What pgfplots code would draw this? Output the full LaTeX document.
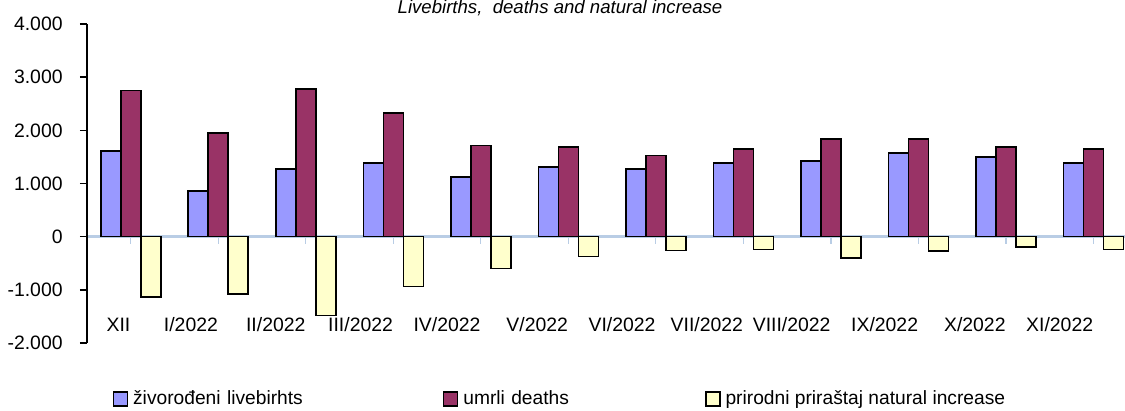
\documentclass[border=0pt]{standalone}
\usepackage{fontspec}
\setmainfont{Liberation Sans}
\usepackage{pgfplots}
\usepackage{pgfplotstable}
\pgfplotsset{compat=1.18}

\definecolor{birthblue}{RGB}{153,153,255}
\definecolor{deathred}{RGB}{153,51,102}
\definecolor{natyellow}{RGB}{255,255,204}
\definecolor{zeroblue}{RGB}{185,205,229}

% mjesec, zivorodeni, umrli, prirodni prirastaj
\pgfplotstableread{
x  births deaths nat
0  1615   2747   -1132
1  864    1947   -1083
2  1277   2773   -1480
3  1384   2322   -938
4  1120   1715   -600
5  1308   1684   -370
6  1277   1527   -260
7  1383   1646   -245
8  1427   1834   -400
9  1571   1834   -270
10 1496   1684   -195
11 1383   1646   -245
}\data

\begin{document}
\begin{tikzpicture}
\begin{axis}[
  scale only axis, width=519pt, height=159.5pt,
  xmin=-0.5, xmax=11.36, ymin=-2000, ymax=4000,
  axis y line*=left, axis x line*=middle,
  ybar=0pt, bar width=10pt,
  tick align=outside, major tick length=3.5pt,
  y axis line style={black, line width=0.8pt},
  x axis line style={zeroblue, line width=1.2pt},
  ytick style={black, line width=0.8pt},
  xtick style={zeroblue, line width=0.6pt},
  ytick={-2000,-1000,0,1000,2000,3000,4000},
  yticklabels={-2.000,-1.000,0,1.000,2.000,3.000,4.000},
  xtick={0,...,11},
  xticklabels={XII,I/2022,II/2022,III/2022,IV/2022,V/2022,VI/2022,VII/2022,VIII/2022,IX/2022,X/2022,XI/2022},
  tick label style={font=\fontsize{9.7}{11.6}\selectfont},
  yticklabel style={anchor=east, inner sep=0pt, xshift=-8.5pt},
  xticklabel style={anchor=base east, inner sep=0pt, yshift=-44pt},
  title={Livebirths,~~deaths and natural increase},
  title style={at={(0.4557,1)}, anchor=base, yshift=-0.5pt, inner sep=0pt,
    font=\itshape\fontsize{9.3}{11}\selectfont},
  legend columns=3,
  legend image code/.code={\draw[#1, line width=0.6pt] (0pt,-3.5pt) rectangle (7pt,3.5pt);},
  legend style={draw=none, fill=none, at={(0.025,-0.1755)}, anchor=west,
    inner sep=0pt, outer sep=0pt, column sep=0pt,
    font=\fontsize{9.6}{11.5}\selectfont,
    nodes={inner sep=0pt},
    /tikz/column 1/.style={column sep=2.5pt},
    /tikz/column 2/.style={text width=155pt},
    /tikz/column 3/.style={column sep=2.5pt},
    /tikz/column 4/.style={text width=121pt},
    /tikz/column 5/.style={column sep=2.5pt}},
  legend cell align=left,
]
\addplot[fill=birthblue, draw=black, line width=0.8pt] table[x=x, y=births] {\data};
\addplot[fill=deathred, draw=black, line width=0.8pt] table[x=x, y=deaths] {\data};
\addplot[fill=natyellow, draw=black, line width=0.8pt] table[x=x, y=nat] {\data};
\legend{živorođeni livebirhts, umrli deaths, prirodni priraštaj natural increase}
\end{axis}
\pgfresetboundingbox
\path[use as bounding box] ([xshift=-43.5pt, yshift=-34pt]current axis.south west)
  rectangle ([yshift=12pt]current axis.north east);
\end{tikzpicture}
\end{document}
